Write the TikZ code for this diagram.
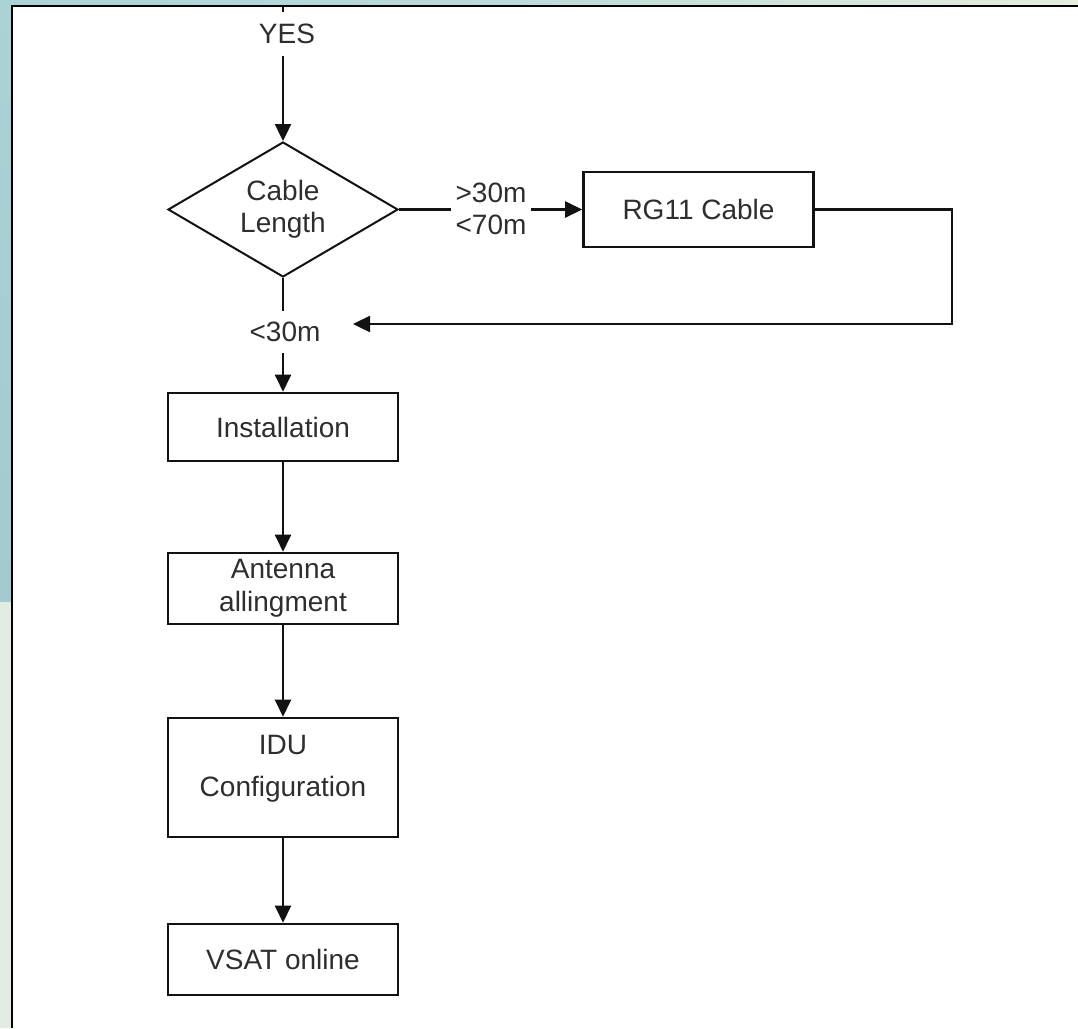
\documentclass[tikz,border=0pt]{standalone}
\usepackage{fontspec}
\setmainfont{Liberation Sans}
\usetikzlibrary{arrows.meta,shapes.geometric}
\definecolor{tealbg}{HTML}{ABD3D6}
\definecolor{tealdk}{HTML}{A2CACF}
\definecolor{greybg}{HTML}{E2ECE3}
\definecolor{palebg}{HTML}{E6EEDC}
\definecolor{ink}{HTML}{121212}
\definecolor{txt}{HTML}{2E2E2E}
\begin{document}
\begin{tikzpicture}[x=1pt,y=-1pt,
  every node/.style={font=\fontsize{28}{32}\selectfont, text=txt},
  box/.style={draw=ink, line width=2.6pt, fill=white, minimum width=230pt, inner sep=0pt, align=center},
  decision/.style={diamond, draw=ink, line width=2pt, fill=white, minimum width=230pt, minimum height=135pt, inner sep=0pt, shape aspect=1.7, align=center},
  lbl/.style={fill=white, inner xsep=4pt, align=center},
  conn/.style={draw=ink, line width=2.4pt},
  arr/.style={conn, -{Triangle[length=17pt,width=16pt]}}
]
\useasboundingbox (0,0) rectangle (1078,1028);
% background slide
\shade[top color=tealbg, bottom color=tealdk] (0,0) rectangle (12,602);
\fill[greybg] (0,602) rectangle (12,1028);
\shade[left color=tealbg, right color=palebg, middle color=tealbg!70!palebg] (0,0) rectangle (1078,6);
\fill[white] (12,6) rectangle (1078,1028);
\draw[black, line width=2.6pt] (12,1028) -- (12,6) -- (1078,6);

% nodes
\coordinate (top) at (283,6);
\node[lbl, inner ysep=12pt] (yes) at (287,34) {YES};
\node[decision] (dec) at (283,209.5) {Cable\\Length};
\node[lbl, inner ysep=2pt] (mid) at (491,208.5) {>30m\\<70m};
\node[box, minimum height=75pt] (rg) at (698.5,209.5) {RG11 Cable};
\coordinate (rc) at (952,209.5);
\coordinate (ret) at (353,324);
\node[lbl, inner ysep=11pt] (lt) at (285,332) {<30m};
\node[box, minimum height=68pt] (inst) at (283,427) {Installation};
\node[box, minimum height=71pt] (ant) at (283,588.5) {Antenna\\[1pt]allingment};
\node[box, minimum height=119pt] (idu) at (283,777.5) {};
\node[inner sep=0pt, align=center] (idut) at (283,769) {IDU\\[10pt]Configuration};
\node[box, minimum height=71pt] (vsat) at (283,959.5) {VSAT online};

% connectors
\draw[conn] (top) -- (top |- yes.north);
\draw[arr] (yes.south -| dec.north) -- (dec.north);
\draw[conn] (dec.east) -- (mid.west |- dec.east);
\draw[arr] (mid.east |- rg.west) -- (rg.west);
\draw[arr] (rg.east) -- (rc) |- (ret);
\draw[conn] (dec.south) -- (dec.south |- lt.north);
\draw[arr] (lt.south -| inst.north) -- (inst.north);
\draw[arr] (inst.south) -- (ant.north);
\draw[arr] (ant.south) -- (idu.north);
\draw[arr] (idu.south) -- (vsat.north);
\end{tikzpicture}
\end{document}
